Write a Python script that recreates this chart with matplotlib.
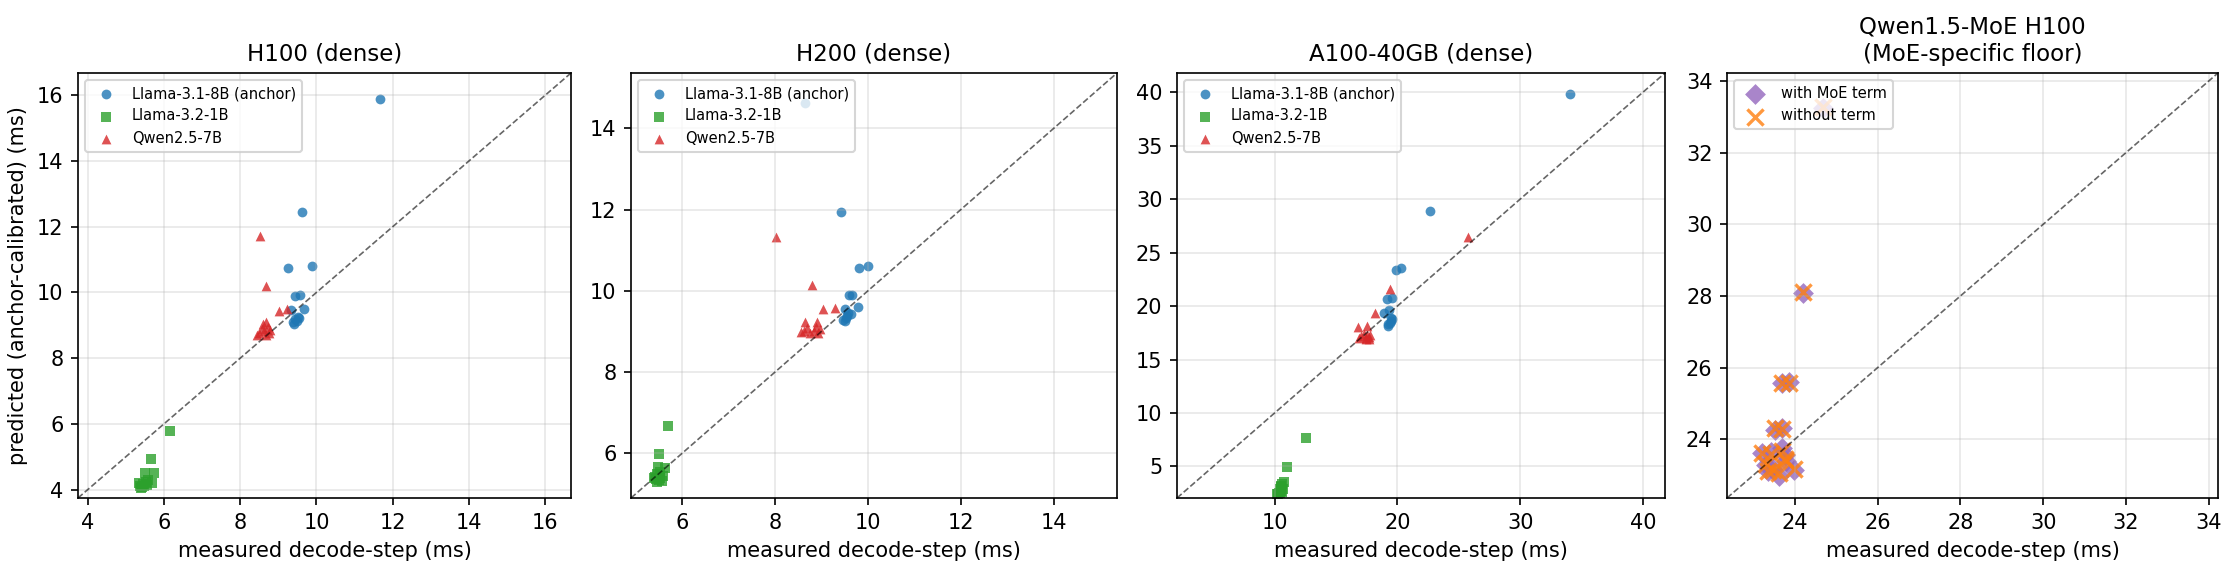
import numpy as np
import matplotlib
matplotlib.use("Agg")
import matplotlib.pyplot as plt

# ---- data (ms) ----
# H100
h100_l8_meas = [11.67, 9.63, 9.25, 9.87, 9.44, 9.56, 9.67, 9.33, 9.52, 9.45, 9.38, 9.42, 9.48, 9.55]
h100_l8_pred = [15.89, 12.45, 10.74, 10.79, 9.88, 9.92, 9.51, 9.47, 9.26, 9.18, 9.09, 9.05, 9.12, 9.22]
h100_l1_meas = [6.15, 5.67, 5.73, 5.51, 5.68, 5.38, 5.45, 5.52, 5.42, 5.58, 5.35, 5.48, 5.55, 5.40]
h100_l1_pred = [5.79, 4.94, 4.51, 4.50, 4.20, 4.12, 4.18, 4.25, 4.08, 4.30, 4.22, 4.10, 4.15, 4.05]
h100_qw_meas = [8.52, 8.68, 9.03, 9.23, 8.59, 8.69, 8.72, 8.50, 8.62, 8.75, 8.45, 8.68, 8.58, 8.78]
h100_qw_pred = [11.72, 10.18, 9.44, 9.49, 9.04, 9.09, 8.95, 8.78, 8.82, 8.78, 8.72, 8.70, 8.88, 8.85]

# H200
h200_l8_meas = [8.65, 9.42, 9.81, 10.01, 9.60, 9.65, 9.51, 9.79, 9.64, 9.51, 9.53, 9.47, 9.58, 9.55]
h200_l8_pred = [14.63, 11.93, 10.57, 10.61, 9.89, 9.90, 9.56, 9.61, 9.42, 9.25, 9.33, 9.29, 9.45, 9.38]
h200_l1_meas = [5.70, 5.51, 5.49, 5.64, 5.42, 5.50, 5.58, 5.45, 5.53, 5.40, 5.47, 5.56, 5.44, 5.52]
h200_l1_pred = [6.66, 5.98, 5.66, 5.64, 5.42, 5.35, 5.45, 5.30, 5.55, 5.38, 5.48, 5.33, 5.36, 5.40]
h200_qw_meas = [8.02, 8.80, 9.04, 9.30, 8.64, 8.91, 8.56, 8.69, 8.84, 8.93, 8.62, 8.75, 8.88, 8.97]
h200_qw_pred = [11.32, 10.13, 9.54, 9.57, 9.23, 9.23, 8.98, 9.08, 9.00, 8.95, 9.02, 8.96, 9.10, 9.05]

# A100-40GB
a100_l8_meas = [34.08, 22.67, 19.85, 20.29, 19.18, 19.56, 18.89, 19.30, 19.59, 19.24, 19.38, 19.45, 19.20, 19.50]
a100_l8_pred = [39.84, 28.90, 23.41, 23.59, 20.69, 20.79, 19.38, 19.60, 18.76, 18.13, 18.45, 18.60, 18.30, 18.90]
a100_l1_meas = [12.55, 11.00, 10.73, 10.60, 10.55, 10.40, 10.50, 10.30, 10.45, 10.62, 10.20, 10.65, 10.35, 10.52]
a100_l1_pred = [7.62, 4.94, 3.54, 3.40, 3.05, 2.85, 2.70, 2.45, 2.55, 2.60, 2.40, 2.90, 2.50, 3.20]
a100_qw_meas = [25.75, 19.41, 18.15, 16.80, 17.54, 16.89, 17.56, 17.70, 17.42, 17.30, 17.65, 17.05, 17.48, 17.75]
a100_qw_pred = [26.49, 21.63, 19.32, 18.04, 18.13, 17.04, 17.26, 16.89, 17.02, 17.40, 17.10, 17.20, 16.95, 17.30]

# Qwen1.5-MoE on H100
moe_meas = [24.69, 24.19, 23.70, 23.86, 23.51, 23.70, 23.20, 23.42, 23.68, 23.31, 23.61, 23.97, 23.78, 23.48, 23.35, 23.75]
moe_with = [33.25, 28.09, 25.56, 25.60, 24.27, 24.30, 23.62, 23.64, 23.76, 23.29, 22.98, 23.15, 23.38, 23.18, 23.10, 23.55]
moe_without = [33.28, 28.12, 25.58, 25.58, 24.30, 24.28, 23.62, 23.60, 23.66, 23.30, 23.06, 23.17, 23.40, 23.15, 23.12, 23.45]

dense_titles = ["H100 (dense)", "H200 (dense)", "A100-40GB (dense)"]
dense_limits = [(3.75, 16.67), (4.9, 15.36), (2.05, 41.8)]
moe_limits = (22.36, 34.22)

dense_data = [
    [(h100_l8_meas, h100_l8_pred), (h100_l1_meas, h100_l1_pred), (h100_qw_meas, h100_qw_pred)],
    [(h200_l8_meas, h200_l8_pred), (h200_l1_meas, h200_l1_pred), (h200_qw_meas, h200_qw_pred)],
    [(a100_l8_meas, a100_l8_pred), (a100_l1_meas, a100_l1_pred), (a100_qw_meas, a100_qw_pred)],
]
model_names = ["Llama-3.1-8B (anchor)", "Llama-3.2-1B", "Qwen2.5-7B"]
model_colors = ["#1f77b4", "#2ca02c", "#d62728"]
model_markers = ["o", "s", "^"]

W, H = 2232, 577
fig = plt.figure(figsize=(W / 150, H / 150), dpi=150)

# axes boxes in pixels (left, right), shared top/bottom
boxes = [(78, 571), (631, 1117), (1177, 1665), (1727, 2218)]
top_px, bot_px = 73, 498
axes = []
for l, r in boxes:
    axes.append(fig.add_axes([l / W, (H - bot_px) / H, (r - l) / W, (bot_px - top_px) / H]))

for k in range(3):
    ax = axes[k]
    for (mx, py), name, c, m in zip(dense_data[k], model_names, model_colors, model_markers):
        ax.scatter(mx, py, s=22, color=c, marker=m, alpha=0.8, linewidths=0, label=name)
    lo, hi = dense_limits[k]
    ax.plot([lo, hi], [lo, hi], linestyle="--", color="black", alpha=0.6, linewidth=0.8)
    ax.set_xlim(lo, hi)
    ax.set_ylim(lo, hi)
    ax.grid(True, alpha=0.3)
    ax.set_title(dense_titles[k], fontsize=11)
    ax.set_xlabel("measured decode-step (ms)")
    ax.legend(loc="upper left", fontsize=7)

axes[0].set_ylabel("predicted (anchor-calibrated) (ms)")

ax = axes[3]
ax.scatter(moe_meas, moe_with, s=50, color="#9467bd", marker="D", alpha=0.8, linewidths=0, label="with MoE term")
ax.scatter(moe_meas, moe_without, s=60, color="#ff7f0e", marker="x", alpha=0.8, linewidths=1.6, label="without term")
lo, hi = moe_limits
ax.plot([lo, hi], [lo, hi], linestyle="--", color="black", alpha=0.6, linewidth=0.8)
ax.set_xlim(lo, hi)
ax.set_ylim(lo, hi)
ax.grid(True, alpha=0.3)
ax.set_title("Qwen1.5-MoE H100\n(MoE-specific floor)", fontsize=11)
ax.set_xlabel("measured decode-step (ms)")
ax.legend(loc="upper left", fontsize=7)

plt.savefig("out.png", dpi=150)
